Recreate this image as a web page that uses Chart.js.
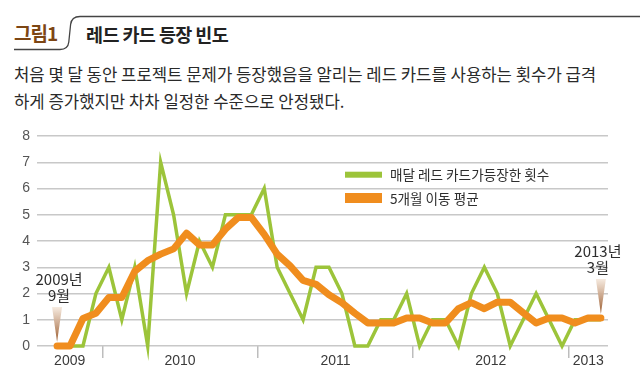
<!DOCTYPE html>
<html><head><meta charset="utf-8">
<script src="https://cdn.jsdelivr.net/npm/chart.js@4/dist/chart.umd.min.js"></script>
<style>
html,body{margin:0;padding:0;background:#fff;}
#wrap{position:relative;width:640px;height:386px;overflow:hidden;background:#fff;}
.t{position:absolute;white-space:nowrap;font-family:"Noto Sans CJK KR","Noto Sans",sans-serif;}
#fig{left:14px;top:21px;font-size:19px;line-height:24px;font-weight:bold;color:#7d4614;letter-spacing:-1px;}
#ttl{left:86px;top:22px;font-size:18.5px;line-height:24px;font-weight:bold;color:#222;letter-spacing:-0.6px;}
#sub1{left:14px;top:61px;font-size:16.7px;line-height:26px;color:#2a2a2a;}
#sub2{left:14px;top:88px;font-size:16.7px;line-height:26px;color:#2a2a2a;}
canvas{position:absolute;left:0;top:0;}
svg{position:absolute;left:0;top:0;}
</style></head>
<body>
<div id="wrap">
<svg width="640" height="60"><path d="M14,49.5 H60 Q68,49.5 68.8,42 L70.6,24.5 Q71.5,16.5 80,16.5 H640" fill="none" stroke="#444" stroke-width="1.3"/></svg>
<div class="t" id="fig">그림1</div>
<div class="t" id="ttl">레드 카드 등장 빈도</div>
<div class="t" id="sub1">처음 몇 달 동안 프로젝트 문제가 등장했음을 알리는 레드 카드를 사용하는 횟수가 급격</div>
<div class="t" id="sub2">하게 증가했지만 차차 일정한 수준으로 안정됐다.</div>
<canvas id="c" width="640" height="386"></canvas>
</div>
<script>
// ---- data ----
const months = ['2009-09','2009-10','2009-11','2009-12',
  '2010-01','2010-02','2010-03','2010-04','2010-05','2010-06','2010-07','2010-08','2010-09','2010-10','2010-11','2010-12',
  '2011-01','2011-02','2011-03','2011-04','2011-05','2011-06','2011-07','2011-08','2011-09','2011-10','2011-11','2011-12',
  '2012-01','2012-02','2012-03','2012-04','2012-05','2012-06','2012-07','2012-08','2012-09','2012-10','2012-11','2012-12',
  '2013-01','2013-02','2013-03'];
const monthlyCount = [0,0,0,2,3,1,3,0,7,5,2,4,3,5,5,5,6,3,2,1,3,3,2,0,0,1,1,2,0,1,1,0,2,3,2,0,1,2,1,0,1,1,1];
const movingAvg5 = [0,0,1.05,1.25,1.85,1.85,2.85,3.25,3.5,3.7,4.3,3.85,3.85,4.45,4.9,4.9,4.25,3.5,3.05,2.5,2.35,1.95,1.65,1.25,0.88,0.88,0.88,1.07,1.07,0.88,0.88,1.42,1.65,1.42,1.67,1.67,1.27,0.88,1.07,1.07,0.88,1.07,1.07];
const yearLabels = ['2009','2010','2011','2012','2013'];
const yTicks = [0,1,2,3,4,5,6,7,8];
const seriesLabels = ['매달 레드 카드가등장한 횟수','5개월 이동 평균'];
const startNote = ['2009년','9월'];
const endNote = ['2013년','3월'];

// ---- derived ----
const GREEN = '#9cc43a', ORANGE = '#f08d1e';
const xMin = -1.55, xMax = months.length - 1 + 0.55;
const boundaries = [];
for (let i = 1; i < months.length; i++) {
  if (months[i].slice(0,4) !== months[i-1].slice(0,4)) boundaries.push(i - 0.5);
}
const edges = [xMin, ...boundaries, xMax];
const yearTicks = yearLabels.map((y,i) => ({value:(edges[i]+edges[i+1])/2, yr:y}));
const sepTicks = boundaries.map(b => ({value:b, sep:true}));
const toPts = arr => arr.map((v,i) => ({x:i, y:v}));

const NUMFONT = '"Liberation Sans Narrow","Liberation Sans","Noto Sans CJK KR",sans-serif';
const KRFONT = '"Liberation Sans Narrow","Noto Sans CJK KR",sans-serif';

const overlay = {
  id:'overlay',
  afterDatasetsDraw(chart){
    const ctx = chart.ctx, xs = chart.scales.x, ys = chart.scales.y;
    // legend
    const lx = 345;
    const rows = [{c:GREEN,h:6,y:174.7,t:seriesLabels[0]},{c:ORANGE,h:10,y:198,t:seriesLabels[1]}];
    rows.forEach(r => {
      ctx.fillStyle = r.c;
      ctx.fillRect(lx, r.y - r.h/2, 37, r.h);
      ctx.save();
      ctx.font = '13.6px ' + KRFONT;
      ctx.fillStyle = '#2e2e2e';
      ctx.textBaseline = 'middle';
      ctx.textAlign = 'left';
      ctx.fillText(r.t, 390, r.y + 0.5);
      ctx.restore();
    });
    // markers
    const notes = [{i:0, t:startNote, dx:2},{i:months.length-1, t:endNote, dx:-3}];
    notes.forEach(n => {
      const px = xs.getPixelForValue(n.i), py = ys.getPixelForValue(movingAvg5[n.i]);
      const top = py - 39, tip = py - 4;
      const g = ctx.createLinearGradient(0, top, 0, tip);
      g.addColorStop(0, 'rgba(245,232,220,0.9)');
      g.addColorStop(1, '#9a5a2c');
      ctx.fillStyle = g;
      ctx.beginPath();
      ctx.moveTo(px - 5, top); ctx.lineTo(px + 5, top); ctx.lineTo(px, tip); ctx.closePath();
      ctx.fill();
      ctx.save();
      ctx.font = '15px ' + KRFONT;
      ctx.fillStyle = '#2e2e2e';
      ctx.textAlign = 'center';
      ctx.textBaseline = 'middle';
      ctx.fillText(n.t[0], px + n.dx, py - 67);
      ctx.fillText(n.t[1], px + n.dx, py - 51);
      ctx.restore();
    });
  }
};

new Chart(document.getElementById('c'), {
  type:'line',
  data:{
    datasets:[
      {label:seriesLabels[1], data:toPts(movingAvg5), borderColor:ORANGE, borderWidth:7, pointRadius:0, tension:0,
       borderJoinStyle:'round', borderCapStyle:'round', clip:false, fill:false},
      {label:seriesLabels[0], data:toPts(monthlyCount), borderColor:GREEN, borderWidth:3.5, pointRadius:0, tension:0,
       borderJoinStyle:'miter', clip:false, fill:false}
    ]
  },
  options:{
    responsive:false, animation:false, devicePixelRatio:1,
    layout:{padding:{left:0, right:32, top:136, bottom:10}},
    plugins:{legend:{display:false}, tooltip:{enabled:false}, title:{display:false}},
    scales:{
      x:{type:'linear', min:xMin, max:xMax,
        afterBuildTicks(sc){ sc.ticks = [...sepTicks, ...yearTicks].sort((a,b)=>a.value-b.value).map(t=>({...t})); },
        afterFit(sc){ sc.height = 30; },
        ticks:{autoSkip:false, maxRotation:0, padding:-5, color:'#3a3a3a', font:{family:NUMFONT, size:14},
          callback(v, i, ticks){ return ticks[i].yr || ''; }},
        grid:{drawOnChartArea:false, drawTicks:true, tickLength:12,
          color:'#bdbdbd', lineWidth:(c)=> (c.tick && c.tick.sep) ? 1.5 : 0},
        border:{display:false}
      },
      y:{min:0, max:8,
        afterBuildTicks(sc){ sc.ticks = yTicks.map(v=>({value:v})); },
        afterFit(sc){ sc.width = 37; },
        ticks:{padding:7, color:'#555', font:{family:NUMFONT, size:14}},
        grid:{color:'#c8c8c8', lineWidth:1.5, drawTicks:false},
        border:{display:false}
      }
    }
  },
  plugins:[overlay]
});
</script>
</body></html>
